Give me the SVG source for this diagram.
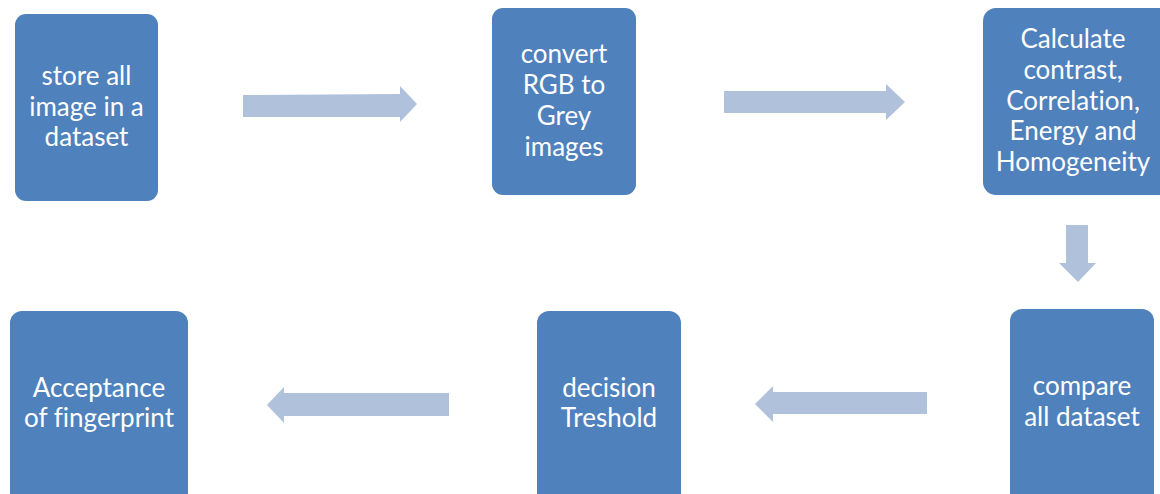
<svg xmlns="http://www.w3.org/2000/svg" width="1160" height="494" viewBox="0 0 1160 494">
<style>
.box{fill:#4F81BD;}
.arr{fill:#B0C1DC;}
.t{font-family:"Lato","Open Sans","Liberation Sans",sans-serif;font-size:26px;fill:#FFFFFF;text-anchor:middle;font-variant-ligatures:none;}
</style>
<rect width="1160" height="494" fill="#FFFFFF"/>
<g id="connectors">
<polygon class="arr" points="243,95 400,94 400,86 417,104 400,122 400,117 243,117"/>
<polygon class="arr" points="724,91 886,91 886,84 905,102 886,120 886,113 724,113"/>
<polygon class="arr" points="1066,225 1088,225 1088,263 1096,263 1078,282 1059,263 1066,263"/>
<polygon class="arr" points="927,392 927,414 773,414 773,422 755,404 773,386 773,392"/>
<polygon class="arr" points="449,393 449,416 284,416 284,423 267,405 284,387 284,393"/>
</g>
<g id="node1">
<rect class="box" x="15" y="14" width="143" height="187" rx="11"/>
<text class="t" x="86.5" y="85">store all</text>
<text class="t" x="86.5" y="115.5">image in a</text>
<text class="t" x="86.5" y="146">dataset</text>
</g>
<g id="node2">
<rect class="box" x="492" y="8" width="144" height="187" rx="11"/>
<text class="t" x="564" y="63">convert</text>
<text class="t" x="564" y="94">RGB to</text>
<text class="t" x="564" y="125">Grey</text>
<text class="t" x="564" y="156">images</text>
</g>
<g id="node3">
<rect class="box" x="983" y="8" width="190" height="187" rx="13"/>
<text class="t" x="1073" y="48">Calculate</text>
<text class="t" x="1073" y="79">contrast,</text>
<text class="t" x="1073" y="110">Correlation,</text>
<text class="t" x="1073" y="140">Energy and</text>
<text class="t" x="1073" y="171">Homogeneity</text>
</g>
<g id="node4">
<rect class="box" x="1010" y="309" width="144" height="200" rx="12"/>
<text class="t" x="1082" y="395">compare</text>
<text class="t" x="1082" y="426">all dataset</text>
</g>
<g id="node5">
<rect class="box" x="537" y="311" width="144" height="200" rx="12"/>
<text class="t" x="609" y="397">decision</text>
<text class="t" x="609" y="427">Treshold</text>
</g>
<g id="node6">
<rect class="box" x="10" y="311" width="178" height="200" rx="12"/>
<text class="t" x="99" y="397">Acceptance</text>
<text class="t" x="99" y="427">of fingerprint</text>
</g>
</svg>
